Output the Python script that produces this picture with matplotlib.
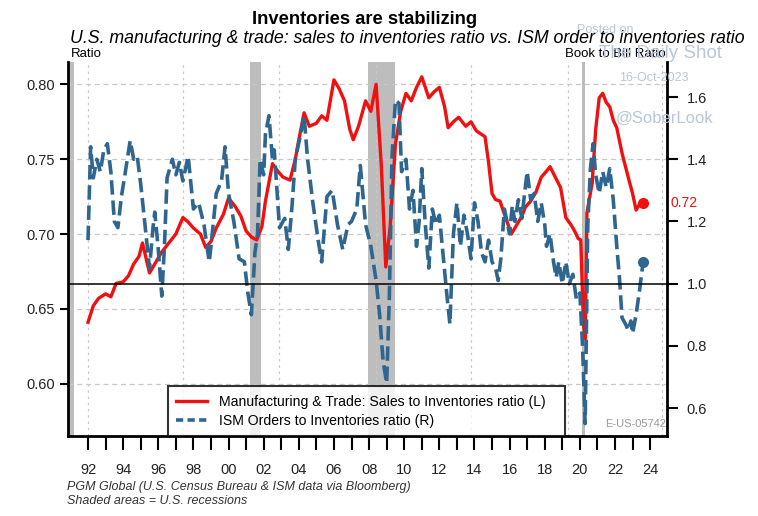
import numpy as np
import matplotlib.pyplot as plt
from matplotlib.lines import Line2D

plt.rcParams['font.family'] = ['Liberation Sans', 'DejaVu Sans']

# manufacturing & trade sales / inventories (left axis)
red_t = [1992.0, 1992.3, 1992.6, 1993.0, 1993.3, 1993.6, 1994.0, 1994.3, 1994.6, 1994.9,
         1995.1, 1995.5, 1995.8, 1996.2, 1996.6, 1997.0, 1997.4, 1997.7, 1998.0, 1998.4,
         1998.7, 1999.0, 1999.3, 1999.7, 2000.0, 2000.4, 2000.7, 2001.0, 2001.3, 2001.6,
         2001.9, 2002.1, 2002.5, 2002.8, 2003.1, 2003.5, 2003.8, 2004.0, 2004.3, 2004.6,
         2005.0, 2005.3, 2005.6, 2006.0, 2006.3, 2006.6, 2006.9, 2007.1, 2007.4, 2007.8,
         2008.1, 2008.4, 2008.7, 2008.95, 2009.2, 2009.5, 2009.8, 2010.1, 2010.4, 2010.7,
         2011.0, 2011.4, 2011.7, 2012.0, 2012.3, 2012.5, 2012.8, 2013.1, 2013.5, 2013.8,
         2014.1, 2014.6, 2014.8, 2015.0, 2015.2, 2015.45, 2015.8, 2016.1, 2016.4, 2016.7,
         2016.9, 2017.2, 2017.5, 2017.8, 2018.1, 2018.3, 2018.6, 2018.9, 2019.2, 2019.5,
         2019.7, 2019.9, 2020.05, 2020.2, 2020.3, 2020.4, 2020.7, 2020.9, 2021.1, 2021.3,
         2021.5, 2021.7, 2021.9, 2022.1, 2022.4, 2022.75, 2023.0, 2023.2, 2023.4, 2023.6]
red_v = [0.641, 0.652, 0.657, 0.660, 0.658, 0.667, 0.668, 0.672, 0.680, 0.685,
         0.694, 0.674, 0.680, 0.688, 0.694, 0.700, 0.711, 0.708, 0.704, 0.700,
         0.691, 0.695, 0.704, 0.713, 0.724, 0.718, 0.712, 0.702, 0.698, 0.696,
         0.705, 0.722, 0.747, 0.742, 0.738, 0.736, 0.750, 0.763, 0.781, 0.772,
         0.774, 0.779, 0.776, 0.803, 0.797, 0.789, 0.770, 0.763, 0.772, 0.789,
         0.782, 0.800, 0.745, 0.678, 0.705, 0.760, 0.782, 0.794, 0.789, 0.798,
         0.805, 0.791, 0.795, 0.798, 0.785, 0.771, 0.775, 0.778, 0.772, 0.775,
         0.769, 0.765, 0.748, 0.727, 0.723, 0.722, 0.710, 0.700, 0.706, 0.712,
         0.718, 0.722, 0.728, 0.738, 0.742, 0.745, 0.738, 0.731, 0.711, 0.706,
         0.702, 0.697, 0.696, 0.640, 0.630, 0.714, 0.734, 0.770, 0.791, 0.794,
         0.788, 0.785, 0.776, 0.771, 0.754, 0.738, 0.727, 0.716, 0.720, 0.721]

# ISM new orders / inventories (right axis)
blue_t = [1992.0, 1992.15, 1992.3, 1992.5, 1992.7, 1992.9, 1993.1, 1993.3, 1993.5, 1993.7,
          1993.9, 1994.1, 1994.4, 1994.6, 1994.8, 1995.0, 1995.3, 1995.5, 1995.7, 1995.8,
          1996.0, 1996.2, 1996.35, 1996.5, 1996.8, 1997.0, 1997.2, 1997.4, 1997.7, 1998.0,
          1998.3, 1998.6, 1998.9, 1999.0, 1999.3, 1999.6, 1999.8, 2000.0, 2000.3, 2000.6,
          2000.9, 2001.1, 2001.3, 2001.5, 2001.65, 2001.8, 2002.0, 2002.1, 2002.3, 2002.5,
          2002.6, 2002.9, 2003.2, 2003.4, 2003.6, 2003.8, 2004.1, 2004.3, 2004.5, 2004.8,
          2005.1, 2005.3, 2005.6, 2005.9, 2006.2, 2006.5, 2006.8, 2007.0, 2007.3, 2007.5,
          2007.8, 2008.1, 2008.4, 2008.6, 2008.8, 2009.0, 2009.15, 2009.3, 2009.5, 2009.7,
          2009.85, 2010.1, 2010.3, 2010.5, 2010.7, 2010.85, 2011.0, 2011.2, 2011.4, 2011.6,
          2011.8, 2012.0, 2012.2, 2012.4, 2012.6, 2012.8, 2013.0, 2013.2, 2013.4, 2013.6,
          2013.8, 2014.0, 2014.2, 2014.4, 2014.6, 2014.8, 2015.0, 2015.2, 2015.35, 2015.5,
          2015.7, 2016.0, 2016.15, 2016.3, 2016.5, 2016.7, 2016.85, 2017.0, 2017.2, 2017.4,
          2017.6, 2017.8, 2018.0, 2018.1, 2018.3, 2018.5, 2018.65, 2018.8, 2019.0, 2019.2,
          2019.4, 2019.6, 2019.8, 2020.0, 2020.15, 2020.3, 2020.45, 2020.6, 2020.75, 2020.9,
          2021.1, 2021.3, 2021.5, 2021.7, 2021.9, 2022.1, 2022.25, 2022.4, 2022.6, 2022.75,
          2022.9, 2023.0, 2023.2, 2023.4, 2023.6]
blue_v = [1.14, 1.44, 1.34, 1.40, 1.36, 1.43, 1.45, 1.36, 1.20, 1.18,
          1.28, 1.35, 1.46, 1.40, 1.41, 1.32, 1.16, 1.05, 1.18, 1.23,
          1.11, 0.96, 1.12, 1.34, 1.40, 1.35, 1.39, 1.33, 1.41, 1.24,
          1.26, 1.19, 1.07, 1.12, 1.29, 1.33, 1.44, 1.29, 1.20, 1.08,
          1.07, 0.97, 0.90, 1.10, 1.16, 1.40, 1.35, 1.48, 1.54, 1.40,
          1.43, 1.18, 1.21, 1.11, 1.24, 1.40, 1.48, 1.54, 1.40, 1.26,
          1.14, 1.07, 1.28, 1.30, 1.19, 1.11, 1.19, 1.20, 1.24, 1.38,
          1.19, 1.12, 1.01, 0.90, 0.75, 0.68, 0.95, 1.40, 1.59, 1.58,
          1.36, 1.40, 1.24, 1.30, 1.12, 1.20, 1.37, 1.19, 1.05, 1.24,
          1.19, 1.22, 1.10, 0.98, 0.87, 1.16, 1.26, 1.12, 1.22, 1.16,
          1.08, 1.26, 1.20, 1.10, 1.07, 1.14, 1.07, 1.05, 1.01, 1.08,
          1.24, 1.16, 1.25, 1.20, 1.27, 1.21, 1.29, 1.36, 1.27, 1.29,
          1.20, 1.26, 1.19, 1.12, 1.16, 1.07, 1.02, 1.07, 1.00, 1.07,
          1.00, 1.03, 0.95, 0.97, 0.80, 0.55, 1.19, 1.37, 1.45, 1.35,
          1.29, 1.36, 1.31, 1.37, 1.27, 1.12, 1.02, 0.89, 0.87, 0.85,
          0.88, 0.84, 0.90, 0.98, 1.07]

recessions = [(1990.5, 1991.2), (2001.2, 2001.87), (2007.92, 2009.45), (2020.12, 2020.3)]
year_labels = ['92', '94', '96', '98', '00', '02', '04', '06', '08', '10', '12', '14',
               '16', '18', '20', '22', '24']

RED = '#f01010'
BLUE = '#2f6690'

fig = plt.figure(figsize=(7.58, 5.16), dpi=100)

# watermark first so the titles sit over it
wm = '#b9c6d8'
fig.text(0.798, 0.942, 'Posted on', fontsize=9, color=wm, ha='center', va='center')
fig.text(0.872, 0.897, 'The Daily Shot', fontsize=13.5, color=wm, ha='center', va='center')
fig.text(0.862, 0.849, '16-Oct-2023', fontsize=9, color=wm, ha='center', va='center')
fig.text(0.877, 0.771, '@SoberLook', fontsize=12, color=wm, ha='center', va='center')

ax = fig.add_axes([0.0897, 0.155, 0.7905, 0.725])
ax2 = ax.twinx()
ax.patch.set_alpha(0)

for a, b in recessions:
    ax.axvspan(a, b, color='#bdbdbd', lw=0, zorder=0)

ax.set_xlim(1990.86, 2024.97)
ax.set_ylim(0.565, 0.815)
ax2.set_ylim(0.51, 1.713)

for y in [0.60, 0.65, 0.70, 0.75, 0.80]:
    ax.axhline(y, color='#c8c8c8', lw=0.9, ls=(0, (4, 3)), zorder=0.5)
for x in [1992.0, 1997.4, 2002.9, 2008.4, 2013.8, 2019.3, 2024.7]:
    ax.axvline(x, color='#c8c8c8', lw=0.9, ls=(0, (2, 3)), zorder=0.5)

ax.plot(red_t, red_v, color=RED, lw=2.4, zorder=3)
ax.plot(red_t[-1], red_v[-1], 'o', color=RED, ms=7, zorder=3)
ax2.plot(blue_t, blue_v, color=BLUE, lw=2.6, dashes=(4, 1.6), zorder=3)
ax2.plot(blue_t[-1], blue_v[-1], 'o', color=BLUE, ms=7, zorder=3)
ax2.axhline(1.0, color='black', lw=1.1, zorder=4)

# axes styling
for a in (ax, ax2):
    a.spines['top'].set_visible(False)
ax.spines['left'].set_linewidth(2)
ax.spines['bottom'].set_linewidth(2)
ax2.spines['right'].set_linewidth(2)
ax2.spines['left'].set_visible(False)
ax2.spines['bottom'].set_visible(False)

ax.set_yticks([0.60, 0.65, 0.70, 0.75, 0.80])
ax.set_yticklabels(['0.60', '0.65', '0.70', '0.75', '0.80'], fontsize=10.5, color='#222222')
ax.tick_params(axis='y', length=6, width=1.5, direction='out')
ax2.set_yticks([0.6, 0.8, 1.0, 1.2, 1.4, 1.6])
ax2.set_yticklabels(['0.6', '0.8', '1.0', '1.2', '1.4', '1.6'], fontsize=10.5, color='#222222')
ax2.tick_params(axis='y', length=8, width=1.5, direction='out', pad=6)

ax.set_xticks(np.arange(1992, 2025, 1))
ax.set_xticklabels([''] * 33)
ax.tick_params(axis='x', length=10, width=1.5, direction='out')
for i, lab in enumerate(year_labels):
    ax.text(1992 + 2 * i, -0.09, lab, transform=ax.get_xaxis_transform(),
            ha='center', va='center', fontsize=10.5, color='#222222')

handles = [Line2D([], [], color=RED, lw=2.4),
           Line2D([], [], color=BLUE, lw=2.6, dashes=(2, 1.2))]
leg = ax2.legend(handles,
                 ['Manufacturing & Trade: Sales to Inventories ratio (L)',
                  'ISM Orders to Inventories ratio (R)'],
                 loc='lower left', bbox_to_anchor=(0.167, 0.0, 0.663, 0.15), mode='expand',
                 borderaxespad=0, fancybox=False, edgecolor='black', fontsize=10.1,
                 handlelength=2.2, labelspacing=0.35, borderpad=0.6)
leg.get_frame().set_linewidth(1.5)
leg.set_zorder(10)

ax.text(0.005, 1.02, 'Ratio', transform=ax.transAxes, fontsize=9.5, va='center')
ax.text(0.998, 1.02, 'Book to Bill Ratio', transform=ax.transAxes, fontsize=9.5,
        va='center', ha='right')
ax.text(1.005, 0.624, '0.72', transform=ax.transAxes, fontsize=10, color=RED, va='center')
ax.text(0.998, 0.02, 'E-US-05742', transform=ax.transAxes, fontsize=8, color='#999999',
        ha='right', va='bottom')

fig.text(0.481, 0.963, 'Inventories are stabilizing', ha='center', va='center',
         fontsize=13.2, fontweight='bold')
fig.text(0.537, 0.926,
         'U.S. manufacturing & trade: sales to inventories ratio vs. ISM order to inventories ratio',
         ha='center', va='center', fontsize=12.8, style='italic')

fig.text(0.088, 0.057, 'PGM Global (U.S. Census Bureau & ISM data via Bloomberg)',
         fontsize=9, style='italic', color='#333333', va='center')
fig.text(0.088, 0.030, 'Shaded areas = U.S. recessions', fontsize=9, style='italic',
         color='#333333', va='center')

fig.savefig('out.png', dpi=100)
